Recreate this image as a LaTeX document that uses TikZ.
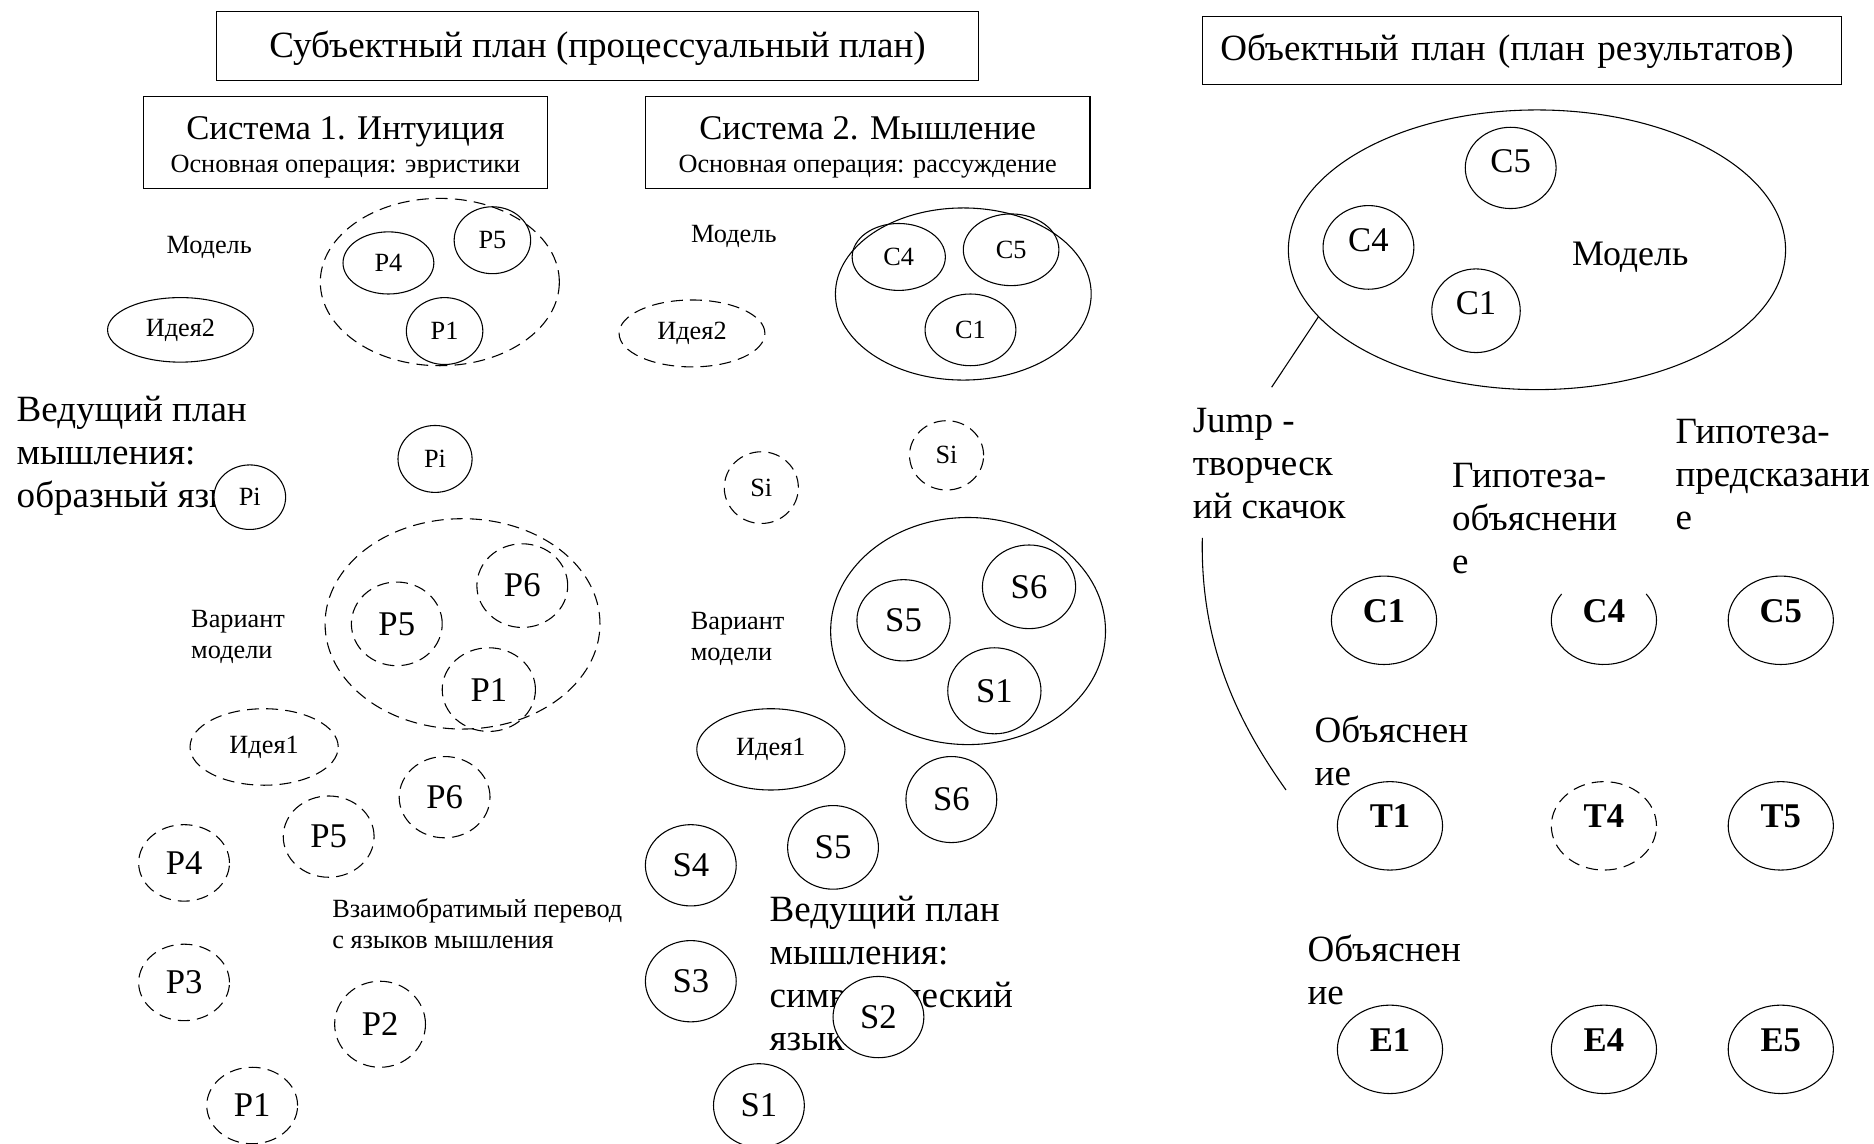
\documentclass[tikz,border=0pt]{standalone}
\usepackage{fontspec}
\setmainfont{Liberation Serif}
\usetikzlibrary{shapes.geometric}
\begin{document}
\begin{tikzpicture}[x=1pt,y=-1pt,line width=0.9pt,
  sz/.style 2 args={minimum width=#1pt,minimum height=#2pt},
  sol/.style={ellipse,draw,inner sep=0pt,outer sep=0pt},
  dsh/.style={sol,dash pattern=on 10pt off 6pt},
  fS/.style={font=\fontsize{22}{26}\selectfont},
  fM/.style={font=\fontsize{29}{34}\selectfont},
  fL/.style={font=\fontsize{31}{36}\selectfont},
  fB/.style={font=\fontsize{29}{34}\selectfont\bfseries,text height=19pt,text depth=16pt},
  fR/.style={font=\fontsize{29}{34}\selectfont,text height=19pt,text depth=12pt},
  box/.style={draw,rectangle,inner sep=0pt,outer sep=0pt},
  txt/.style={inner sep=0pt,outer sep=0pt},
  mtxt/.style={inner sep=0pt,outer sep=0pt,align=left,anchor=north west}]
\useasboundingbox (0,0) rectangle (1568,957);

% ---------- titles and boxes ----------
\node[box,sz={638}{57}] (t1box) at (500,38.5) {};
\node[txt,fL,anchor=base] (t1) at (500,48) {Субъектный план (процессуальный план)};
\node[box,sz={535}{57},text width=505pt,inner xsep=15pt,align=left,fL] (t2box) at (1273.5,42.5) {Объектный план (план результатов)};
\node[box,sz={338}{77}] (s1box) at (289,119.5) {};
\node[txt,fM,anchor=base] (s1l1) at (289,117) {Система 1. Интуиция};
\node[txt,fS,anchor=base] (s1l2) at (289,144) {Основная операция: эвристики};
\node[box,sz={372}{77}] (s2box) at (726,119.5) {};
\node[txt,fM,anchor=base] (s2l1) at (726,117) {Система 2. Мышление};
\node[txt,fS,anchor=base] (s2l2) at (726,144) {Основная операция: рассуждение};

% ---------- left column ----------
\node[txt,fS,anchor=base] (lmod) at (175,212) {Модель};
\node[dsh,sz={200}{140}] (lm) at (368,236) {};
\node[sol,fS,sz={76}{52}] (lp4) at (325,220) {P4};
\node[sol,fS,sz={64}{56}] (lp5) at (412,201) {P5};
\node[sol,fS,sz={64}{56}] (lp1) at (372,277) {P1};
\node[sol,fS,sz={122}{54}] (li2) at (151,276) {Идея2};
\node[mtxt,fL] (llead) at (14,331.5) {Ведущий план\\мышления:\\образный язык};
\node[sol,fS,fill=white,sz={60}{54}] (lpi1) at (209,416) {Pi};
\node[sol,fS,sz={62}{56}] (lpi2) at (364,384) {Pi};
\node[dsh,sz={230}{176}] (lv) at (387,522) {};
\node[dsh,fM,sz={76}{70}] (lv6) at (437,490) {P6};
\node[dsh,fM,sz={76}{70}] (lv5) at (332,522) {P5};
\node[dsh,fM,sz={78}{70}] (lv1) at (409,577) {P1};
\node[mtxt,fS] (lvar) at (160,510.5) {Вариант\\модели};
\node[dsh,fS,sz={124}{64}] (li1) at (221,625) {Идея1};
\node[dsh,fM,sz={76}{68}] (lq6) at (372,667) {P6};
\node[dsh,fM,sz={76}{68}] (lq5) at (275,700) {P5};
\node[dsh,fM,sz={76}{64}] (lq4) at (154,722) {P4};
\node[dsh,fM,sz={76}{64}] (lq3) at (154,822) {P3};
\node[dsh,fM,sz={76}{72}] (lq2) at (318,857) {P2};
\node[dsh,fM,sz={76}{64}] (lq1) at (211,925) {P1};
\node[mtxt,fS] (ltr) at (278,752) {Взаимобратимый перевод\\с языков мышления};

% ---------- middle column ----------
\node[txt,fS,anchor=base] (mmod) at (614,203) {Модель};
\node[dsh,fS,sz={122}{56}] (mi2) at (579,279) {Идея2};
\node[sol,sz={214}{144}] (mm) at (806,246) {};
\node[sol,fS,sz={78}{56}] (mc4) at (752,215) {C4};
\node[sol,fS,sz={80}{60}] (mc5) at (846,209) {C5};
\node[sol,fS,sz={76}{60}] (mc1) at (812,276) {C1};
\node[dsh,fS,sz={62}{60}] (msi1) at (637,408) {Si};
\node[dsh,fS,sz={62}{58}] (msi2) at (792,381) {Si};
\node[sol,sz={230}{190}] (mv) at (810,528) {};
\node[sol,fM,sz={78}{68}] (mv5) at (756,519) {S5};
\node[sol,fM,sz={78}{70}] (mv6) at (861,491) {S6};
\node[sol,fM,sz={78}{72}] (mv1) at (832,578) {S1};
\node[mtxt,fS] (mvar) at (578,512.5) {Вариант\\модели};
\node[sol,fS,sz={124}{68}] (mi1) at (645,627) {Идея1};
\node[sol,fM,sz={76}{72}] (ms6) at (796,669) {S6};
\node[sol,fM,sz={76}{70}] (ms5) at (697,709) {S5};
\node[sol,fM,sz={76}{68}] (ms4) at (578,724) {S4};
\node[sol,fM,sz={76}{68}] (ms3) at (578,821) {S3};
\node[sol,fM,sz={76}{70}] (ms1) at (635,925) {S1};
\node[mtxt,fL] (mlead) at (644,749.5) {Ведущий план\\мышления:\\символический\\язык};
\node[sol,fM,fill=white,sz={76}{68}] (ms2) at (735,851) {S2};

% ---------- right column ----------
\node[sol,sz={416}{234}] (rm) at (1286,209) {};
\node[sol,fR,sz={76}{68}] (rc5m) at (1264,140.5) {C5};
\node[sol,fR,sz={76}{70}] (rc4m) at (1145,207) {C4};
\node[sol,fR,sz={74}{70}] (rc1m) at (1235,260) {C1};
\node[txt,font=\fontsize{30}{35}\selectfont,anchor=base] (rmod) at (1364,222) {Модель};
\coordinate (jt) at (1064,324);
\draw (rm.197.7) -- (jt);
\node[mtxt,fL] (rjump) at (998,341.5) {Jump -\\творческ\\ий скачок};
\node[mtxt,fL] (rhe) at (1215,387.5) {Гипотеза-\\объяснени\\е};
\node[mtxt,fL] (rhp) at (1402,350.5) {Гипотеза-\\предсказани\\е};
\coordinate (cs) at (1006,450);
\coordinate (ce) at (1076,661);
\draw (cs) .. controls (1004,545) and (1040,610) .. (ce);

\node[sol,fB,sz={88}{74}] (rc1) at (1158,519) {C1};
\node[ellipse,inner sep=0pt,outer sep=0pt,fB,sz={88}{74}] (rc4) at (1342,519) {C4};
\draw ([shift={(143.5:44pt and 37pt)}]rc4.center) arc[start angle=143.5,end angle=396.5,x radius=44pt,y radius=37pt];
\node[sol,fB,sz={88}{74}] (rc5) at (1490,519) {C5};

\node[mtxt,fL] (rex1) at (1100,599) {Объяснен\\ие};
\node[sol,fB,sz={88}{74}] (rt1) at (1163,691) {T1};
\node[dsh,fB,sz={88}{74}] (rt4) at (1342,691) {T4};
\node[sol,fB,sz={88}{74}] (rt5) at (1490,691) {T5};

\node[mtxt,fL] (rex2) at (1094,782) {Объяснен\\ие};
\node[sol,fB,sz={88}{74}] (re1) at (1163,878) {E1};
\node[sol,fB,sz={88}{74}] (re4) at (1342,878) {E4};
\node[sol,fB,sz={88}{74}] (re5) at (1490,878) {E5};
\end{tikzpicture}
\end{document}
